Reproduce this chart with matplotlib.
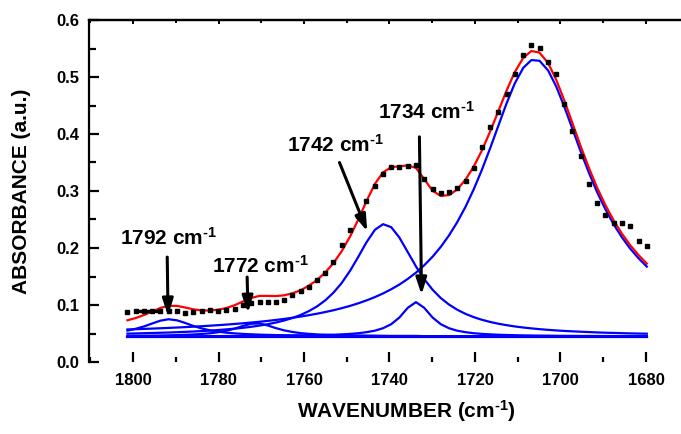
import matplotlib
matplotlib.use('Agg')
import matplotlib.pyplot as plt
from matplotlib.ticker import MultipleLocator, FormatStrFormatter

plt.rcParams['font.family'] = ['Liberation Sans', 'DejaVu Sans']
plt.rcParams['font.weight'] = 'bold'
plt.rcParams['mathtext.fontset'] = 'custom'
plt.rcParams['mathtext.rm'] = 'Liberation Sans:bold'
plt.rcParams['mathtext.it'] = 'Liberation Sans:bold'
plt.rcParams['mathtext.bf'] = 'Liberation Sans:bold'
plt.rcParams['mathtext.default'] = 'rm'

# ---------------- data ----------------
wavenumber = [1801.3, 1799.4, 1797.4, 1795.5, 1793.6, 1791.7, 1789.7, 1787.8, 1785.9, 1783.9,
              1782.0, 1780.1, 1778.2, 1776.2, 1774.3, 1772.4, 1770.4, 1768.5, 1766.6, 1764.7,
              1762.7, 1760.8, 1758.9, 1756.9, 1755.0, 1753.1, 1751.2, 1749.2, 1747.3, 1745.4,
              1743.4, 1741.5, 1739.6, 1737.7, 1735.7, 1733.8, 1731.9, 1729.9, 1728.0, 1726.1,
              1724.2, 1722.2, 1720.3, 1718.4, 1716.4, 1714.5, 1712.6, 1710.7, 1708.7, 1706.8,
              1704.9, 1702.9, 1701.0, 1699.1, 1697.2, 1695.2, 1693.3, 1691.4, 1689.5, 1687.5,
              1685.6, 1683.7, 1681.7, 1679.8]

absorbance = [0.088, 0.089, 0.089, 0.089, 0.089, 0.090, 0.0895, 0.0855, 0.088, 0.090,
              0.091, 0.090, 0.091, 0.0925, 0.100, 0.103, 0.105, 0.105, 0.106, 0.108,
              0.1175, 0.125, 0.131, 0.144, 0.156, 0.176, 0.206, 0.232, 0.257, 0.282,
              0.309, 0.329, 0.342, 0.342, 0.344, 0.346, 0.321, 0.304, 0.297, 0.298,
              0.306, 0.318, 0.340, 0.378, 0.412, 0.438, 0.471, 0.506, 0.539, 0.556,
              0.551, 0.526, 0.506, 0.453, 0.405, 0.362, 0.312, 0.279, 0.258, 0.243,
              0.244, 0.239, 0.213, 0.204]

fit = [0.0732, 0.0771, 0.0825, 0.0887, 0.0948, 0.0986, 0.0984, 0.0956, 0.0924, 0.0904,
       0.0903, 0.0916, 0.0946, 0.0997, 0.1061, 0.1123, 0.1160, 0.1160, 0.1157, 0.1169,
       0.1205, 0.1259, 0.1337, 0.1442, 0.1573, 0.1736, 0.1942, 0.2205, 0.2501, 0.2820,
       0.3126, 0.3328, 0.3417, 0.3434, 0.3448, 0.3406, 0.3211, 0.3002, 0.2913, 0.2928,
       0.3024, 0.3200, 0.3428, 0.3708, 0.4053, 0.4407, 0.4763, 0.5084, 0.5337, 0.5456,
       0.5428, 0.5246, 0.4953, 0.4588, 0.4190, 0.3771, 0.3397, 0.3055, 0.2754, 0.2476,
       0.2249, 0.2051, 0.1873, 0.1727]

peak_1792 = [0.0551, 0.0582, 0.0625, 0.0676, 0.0725, 0.0750, 0.0731, 0.0685, 0.0633, 0.0588,
             0.0556, 0.0532, 0.0515, 0.0502, 0.0493, 0.0486, 0.0480, 0.0476, 0.0472, 0.0469,
             0.0467, 0.0465, 0.0464, 0.0462, 0.0461, 0.0460, 0.0459, 0.0458, 0.0457, 0.0457,
             0.0457, 0.0455, 0.0455, 0.0455, 0.0455, 0.0455, 0.0454, 0.0454, 0.0454, 0.0454,
             0.0454, 0.0454, 0.0454, 0.0454, 0.0454, 0.0454, 0.0452, 0.0452, 0.0452, 0.0452,
             0.0452, 0.0452, 0.0452, 0.0452, 0.0452, 0.0452, 0.0451, 0.0451, 0.0451, 0.0451,
             0.0451, 0.0451, 0.0451, 0.0451]

peak_1772 = [0.0459, 0.0460, 0.0461, 0.0463, 0.0465, 0.0468, 0.0472, 0.0477, 0.0483, 0.0492,
             0.0504, 0.0522, 0.0547, 0.0586, 0.0632, 0.0671, 0.0676, 0.0641, 0.0595, 0.0556,
             0.0527, 0.0507, 0.0494, 0.0484, 0.0478, 0.0473, 0.0469, 0.0466, 0.0464, 0.0462,
             0.0460, 0.0459, 0.0457, 0.0457, 0.0457, 0.0457, 0.0454, 0.0454, 0.0454, 0.0454,
             0.0454, 0.0454, 0.0454, 0.0452, 0.0452, 0.0452, 0.0452, 0.0452, 0.0452, 0.0452,
             0.0452, 0.0452, 0.0452, 0.0452, 0.0452, 0.0452, 0.0452, 0.0452, 0.0452, 0.0452,
             0.0452, 0.0452, 0.0452, 0.0452]

peak_1742 = [0.0498, 0.0501, 0.0505, 0.0509, 0.0513, 0.0517, 0.0523, 0.0529, 0.0535, 0.0543,
             0.0551, 0.0561, 0.0572, 0.0585, 0.0600, 0.0617, 0.0639, 0.0663, 0.0692, 0.0727,
             0.0772, 0.0825, 0.0891, 0.0978, 0.1083, 0.1217, 0.1384, 0.1603, 0.1845, 0.2098,
             0.2320, 0.2418, 0.2366, 0.2185, 0.1925, 0.1676, 0.1456, 0.1266, 0.1122, 0.1009,
             0.0919, 0.0844, 0.0787, 0.0741, 0.0702, 0.0671, 0.0646, 0.0624, 0.0605, 0.0590,
             0.0576, 0.0564, 0.0554, 0.0545, 0.0538, 0.0531, 0.0525, 0.0519, 0.0514, 0.0510,
             0.0506, 0.0502, 0.0499, 0.0496]

peak_1734 = [0.0453, 0.0453, 0.0453, 0.0453, 0.0453, 0.0453, 0.0453, 0.0453, 0.0453, 0.0453,
             0.0455, 0.0455, 0.0456, 0.0456, 0.0457, 0.0457, 0.0458, 0.0459, 0.0460, 0.0462,
             0.0463, 0.0465, 0.0467, 0.0470, 0.0474, 0.0478, 0.0485, 0.0493, 0.0505, 0.0523,
             0.0550, 0.0593, 0.0663, 0.0779, 0.0952, 0.1050, 0.0952, 0.0779, 0.0663, 0.0593,
             0.0550, 0.0523, 0.0505, 0.0493, 0.0485, 0.0478, 0.0474, 0.0470, 0.0467, 0.0465,
             0.0463, 0.0462, 0.0460, 0.0459, 0.0458, 0.0457, 0.0457, 0.0456, 0.0456, 0.0455,
             0.0455, 0.0454, 0.0454, 0.0454]

peak_1706 = [0.0571, 0.0575, 0.0581, 0.0586, 0.0592, 0.0598, 0.0605, 0.0612, 0.0620, 0.0628,
             0.0637, 0.0646, 0.0656, 0.0668, 0.0679, 0.0692, 0.0706, 0.0721, 0.0738, 0.0755,
             0.0776, 0.0797, 0.0821, 0.0848, 0.0877, 0.0908, 0.0944, 0.0985, 0.1030, 0.1080,
             0.1139, 0.1203, 0.1276, 0.1358, 0.1459, 0.1568, 0.1695, 0.1849, 0.2020, 0.2218,
             0.2447, 0.2725, 0.3028, 0.3368, 0.3760, 0.4152, 0.4539, 0.4886, 0.5161, 0.5297,
             0.5285, 0.5116, 0.4835, 0.4479, 0.4090, 0.3679, 0.3312, 0.2977, 0.2681, 0.2408,
             0.2185, 0.1991, 0.1817, 0.1674]

baseline_x = [1801.3, 1679.8]
baseline_y = [0.0445, 0.0445]

components = [peak_1792, peak_1772, peak_1742, peak_1734, peak_1706]

SUP = r'$^{\text{-}1}$'
# annotations: (label, arrow tip (x, y), arrow tail (x, y), text anchor (x, y))
annotations = [
    ('1792 cm' + SUP, (1791.8, 0.081), (1792.0, 0.184), (1803.0, 0.205)),
    ('1772 cm' + SUP, (1773.1, 0.086), (1773.3, 0.149), (1781.5, 0.156)),
    ('1742 cm' + SUP, (1745.2, 0.229), (1751.7, 0.350), (1764.0, 0.368)),
    ('1734 cm' + SUP, (1732.5, 0.118), (1733.0, 0.395), (1742.7, 0.426)),
]

x_ticks = [1800, 1780, 1760, 1740, 1720, 1700, 1680]
y_ticks = [0.0, 0.1, 0.2, 0.3, 0.4, 0.5, 0.6]

# ---------------- figure ----------------
W, H = 681, 434
fig = plt.figure(figsize=(W / 100, H / 100), dpi=100)
ax = fig.add_axes([89 / W, 72 / H, 592 / W, 342 / H])

blue = '#0000ff'
ax.plot(baseline_x, baseline_y, color=blue, lw=1.6, zorder=2)
for comp in components:
    ax.plot(wavenumber, comp, color=blue, lw=1.6, zorder=2)
ax.plot(wavenumber, fit, color='#ff0000', lw=1.6, zorder=3)
ax.plot(wavenumber[1:5], absorbance[1:5], color='black', lw=2.4, zorder=4)
ax.plot(wavenumber, absorbance, linestyle='none', marker='s', ms=3.0,
        color='black', zorder=5)

for label, tip, tail, txt in annotations:
    ax.annotate('', xy=tip, xytext=tail,
                arrowprops=dict(arrowstyle='-|>,head_length=0.5,head_width=0.16',
                                mutation_scale=20, lw=2.2, color='black',
                                shrinkA=0, shrinkB=0), zorder=6)
    ax.text(txt[0], txt[1], label, fontsize=15, fontweight='bold',
            ha='left', va='baseline', zorder=7)

ax.set_xlim(1810.3, 1671.8)
ax.set_ylim(0.0, 0.6)

ax.set_xticks(x_ticks)
ax.set_yticks(y_ticks)
ax.xaxis.set_minor_locator(MultipleLocator(10))
ax.yaxis.set_minor_locator(MultipleLocator(0.05))
ax.yaxis.set_major_formatter(FormatStrFormatter('%.1f'))

for s in ['right', 'bottom']:
    ax.spines[s].set_visible(False)
for s in ['left', 'top']:
    ax.spines[s].set_linewidth(1.6)

ax.tick_params(axis='x', which='major', direction='in', length=7, width=1.6,
               labelsize=12, pad=8, top=False, bottom=True)
ax.tick_params(axis='x', which='minor', direction='in', length=3.5, width=1.6,
               top=False, bottom=True)
ax.tick_params(axis='y', which='major', direction='in', length=7, width=1.6,
               labelsize=12, pad=7, right=False)
ax.tick_params(axis='y', which='minor', direction='in', length=5, width=1.6,
               right=False)
for lab in ax.get_xticklabels() + ax.get_yticklabels():
    lab.set_fontweight('bold')

sec = ax.secondary_xaxis('top')
sec.set_xticks(x_ticks)
sec.xaxis.set_minor_locator(MultipleLocator(10))
sec.tick_params(axis='x', which='major', direction='in', length=3, width=1.4, labeltop=False)
sec.tick_params(axis='x', which='minor', direction='in', length=2, width=1.4)
sec.spines['top'].set_linewidth(1.6)

ax.set_xlabel('WAVENUMBER (cm' + SUP + ')', fontsize=15, fontweight='bold')
ax.set_ylabel('ABSORBANCE (a.u.)', fontsize=15, fontweight='bold')
ax.xaxis.set_label_coords((406 - 89) / 592, -(398 - 362) / 342)
ax.yaxis.set_label_coords((31 - 89) / 592, 0.5)

fig.savefig('out.png', dpi=100)
